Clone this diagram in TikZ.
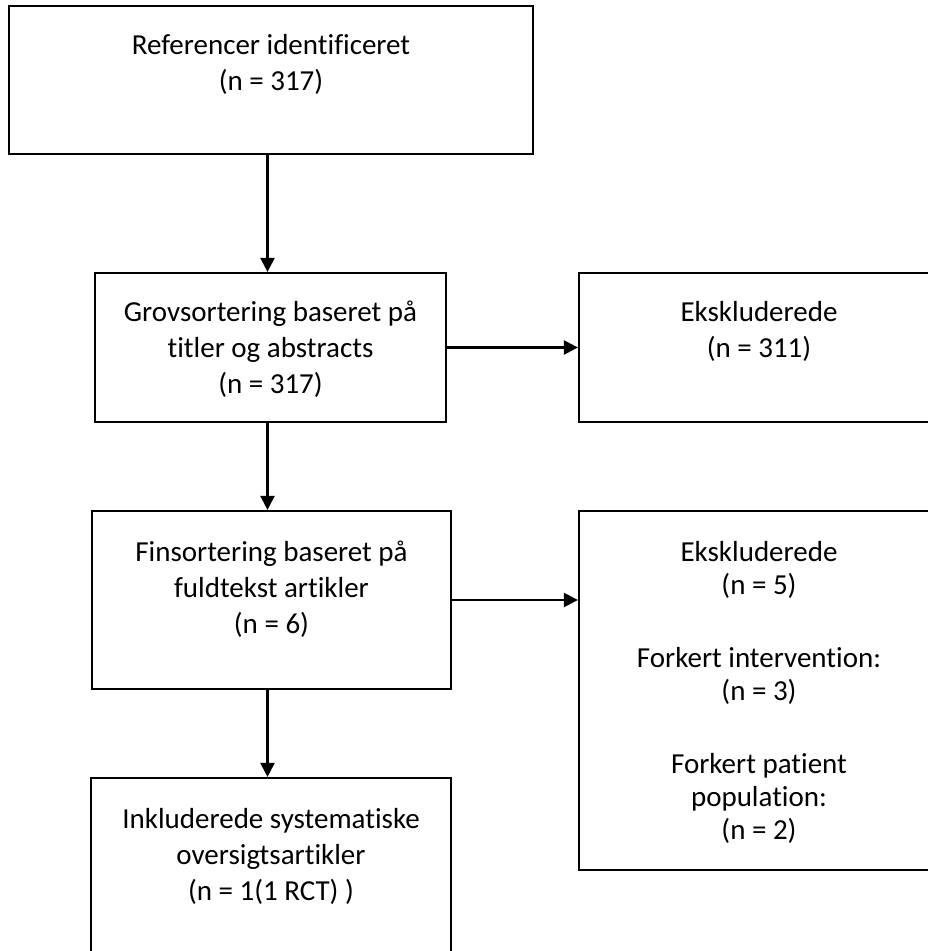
\documentclass[tikz,border=0pt]{standalone}
\usepackage{fontspec}
\setmainfont{Carlito}[Ligatures=NoCommon,Contextuals=NoAlternate]
\usetikzlibrary{arrows.meta,positioning,calc}

\begin{document}
\begin{tikzpicture}[x=1pt,y=-1pt,>={Triangle[length=14pt,width=14pt]}, box/.style={draw=black,line width=2.2pt,inner sep=0pt}, txt/.style={anchor=north,align=center,inner sep=0pt,font=\fontsize{29}{36}\selectfont}, arr/.style={->,line width=2.2pt}]
  \useasboundingbox (0,0) rectangle (928,951);
  \node[box,minimum width=524pt,minimum height=148pt] (ref) at (271,80) {};
  \node[box,minimum width=351pt,minimum height=149pt] (grov) at (270.5,347.5) {};
  \node[box,minimum width=360pt,minimum height=149pt] (eks1) at (759,347.5) {};
  \node[box,minimum width=359pt,minimum height=178pt] (fin) at (271.5,600) {};
  \node[box,minimum width=360pt,minimum height=359pt] (eks2) at (759,690.5) {};
  \node[box,minimum width=360pt,minimum height=182pt] (inkl) at (271,869) {};
  \node[txt] (reft) at ([yshift=-29pt]ref.north) {Referencer identificeret\\(n = 317)};
  \node[txt] (grovt) at ([yshift=-29pt]grov.north) {Grovsortering baseret på\\titler og abstracts\\(n = 317)};
  \node[txt] (eks1t) at ([yshift=-29pt]eks1.north) {Ekskluderede\\(n = 311)};
  \node[txt] (fint) at ([yshift=-31pt]fin.north) {Finsortering baseret på\\fuldtekst artikler\\(n = 6)};
  \node[txt,font=\fontsize{29}{33}\selectfont] (eks2t) at ([yshift=-31pt]eks2.north) {Ekskluderede\\(n = 5)\\[40pt]Forkert intervention:\\(n = 3)\\[40pt]Forkert patient\\population:\\(n = 2)};
  \node[txt] (inklt) at ([yshift=-31pt]inkl.north) {Inkluderede systematiske\\oversigtsartikler\\(n = 1(1 RCT) )};
  \draw[arr] ([xshift=-3.5pt]ref.south) -- ([xshift=-3.5pt]ref.south |- grov.north);
  \draw[arr] ([xshift=-3pt]grov.south) -- ([xshift=-3pt]grov.south |- fin.north);
  \draw[arr] ([xshift=-3pt]grov.south |- fin.south) -- ([xshift=-3pt]grov.south |- inkl.north);
  \draw[arr] (grov.east) -- (grov.east -| eks1.west);
  \draw[arr] (fin.east) -- (fin.east -| eks2.west);
\end{tikzpicture}
\end{document}
